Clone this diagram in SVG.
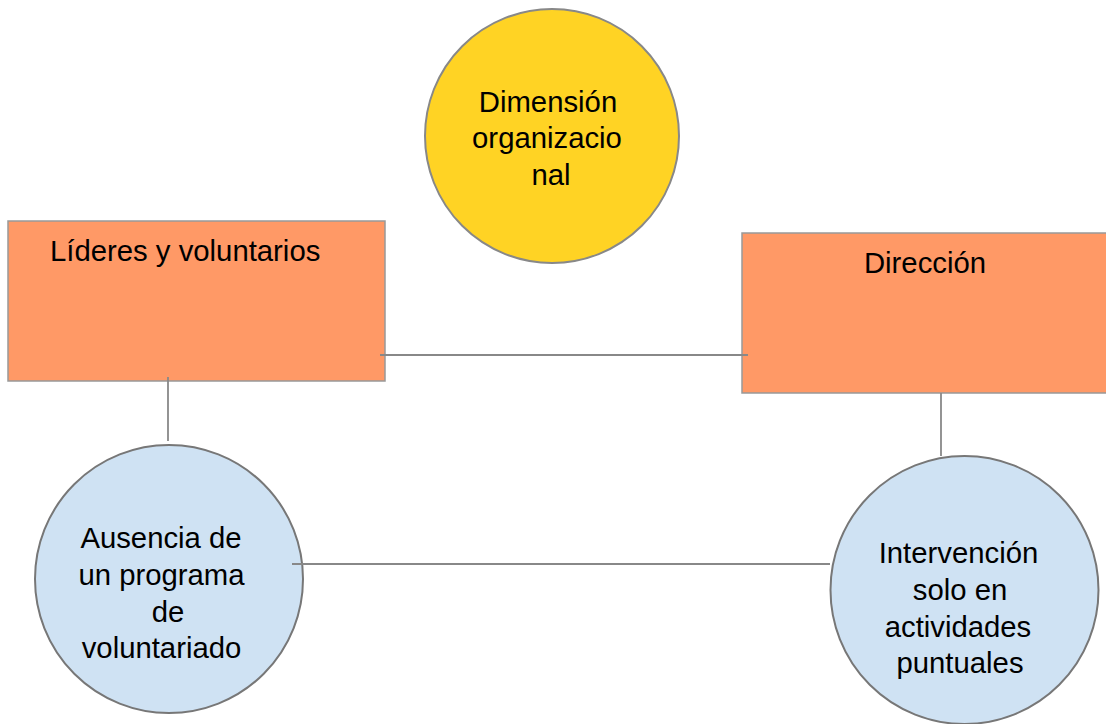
<svg xmlns="http://www.w3.org/2000/svg" width="1106" height="724" viewBox="0 0 1106 724">
<style>
.lbl{font-family:"Liberation Sans",Arial,sans-serif;font-size:29.3px;fill:#000}
.c{text-anchor:middle}
.conn line{stroke:#888;stroke-width:1.8}
.rect{fill:#FF9966;stroke:#999;stroke-width:1.5}
.blue{fill:#CFE2F3;stroke:#777;stroke-width:2}
.yel{fill:#FFD324;stroke:#888;stroke-width:2}
</style>
<rect width="1106" height="724" fill="#fff"/>
<g id="dimension">
<circle class="yel" cx="552" cy="136" r="127"/>
<text class="lbl c" x="548" y="112">Dimensión</text>
<text class="lbl c" x="547" y="148">organizacio</text>
<text class="lbl c" x="551" y="185">nal</text>
</g>
<g id="lideres">
<rect class="rect" x="8" y="221" width="377" height="160"/>
<text class="lbl" x="50" y="261">Líderes y voluntarios</text>
</g>
<g id="direccion">
<rect class="rect" x="742" y="233" width="370" height="160"/>
<text class="lbl c" x="925" y="273">Dirección</text>
</g>
<g id="ausencia">
<circle class="blue" cx="169" cy="579" r="134"/>
<text class="lbl c" x="161" y="548">Ausencia de</text>
<text class="lbl c" x="161.5" y="585">un programa</text>
<text class="lbl c" x="168" y="622">de</text>
<text class="lbl c" x="161.5" y="658">voluntariado</text>
</g>
<g id="intervencion">
<circle class="blue" cx="964.5" cy="590" r="134"/>
<text class="lbl c" x="958.5" y="563">Intervención</text>
<text class="lbl c" x="960" y="600">solo en</text>
<text class="lbl c" x="958" y="637">actividades</text>
<text class="lbl c" x="960" y="673">puntuales</text>
</g>
<g id="connectors" class="conn">
<line x1="380" y1="355" x2="748" y2="355"/>
<line x1="168" y1="377" x2="168" y2="441"/>
<line x1="941" y1="393" x2="941" y2="456"/>
<line x1="292" y1="564" x2="830" y2="564"/>
</g>
</svg>
